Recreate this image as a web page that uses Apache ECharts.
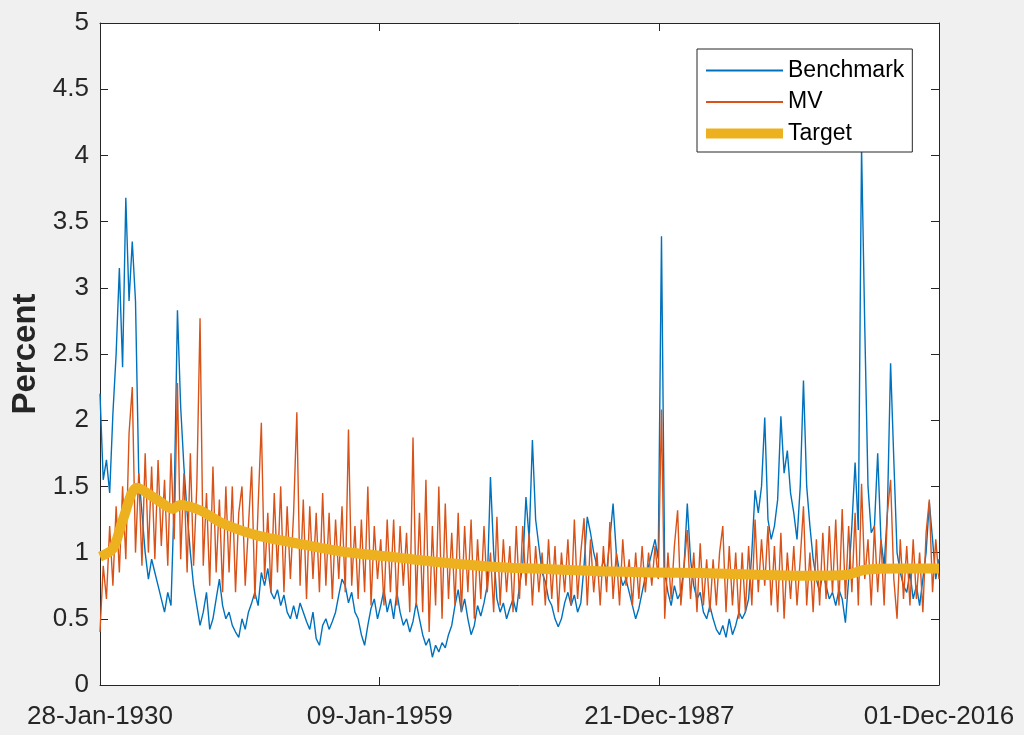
<!DOCTYPE html>
<html>
<head>
<meta charset="utf-8">
<script src="https://cdn.jsdelivr.net/npm/echarts@6/dist/echarts.min.js"></script>
<style>
html,body{margin:0;padding:0;background:#f0f0f0;}
#chart{width:1024px;height:735px;}
</style>
</head>
<body>
<div id="chart"></div>
<script>
// ---- data ----
var startYear = 1930.074;   // 28-Jan-1930
var spanYears = 86.8437;    // to 01-Dec-2016
var tickStep = 28.9479;
var tickLabels = ['28-Jan-1930', '09-Jan-1959', '21-Dec-1987', '01-Dec-2016'];
var seriesNames = ['Benchmark', 'MV', 'Target'];

// sampled every ~4 months across the span
var benchmark = [
2.2,1.55,1.7,1.45,2.05,2.5,3.15,2.4,3.68,2.9,
3.35,2.9,1.6,1.3,1.0,0.8,0.95,0.85,0.75,0.65,
0.55,0.7,0.6,1.4,2.83,2.1,1.65,1.3,1.0,0.75,
0.6,0.45,0.55,0.7,0.42,0.5,0.65,0.8,0.6,0.5,
0.55,0.45,0.4,0.36,0.5,0.42,0.55,0.62,0.7,0.6,
0.85,0.75,0.88,0.7,0.65,0.72,0.6,0.68,0.55,0.5,
0.6,0.5,0.62,0.55,0.48,0.42,0.55,0.35,0.3,0.45,
0.5,0.42,0.48,0.55,0.68,0.8,0.75,0.62,0.7,0.55,
0.5,0.38,0.3,0.45,0.58,0.65,0.5,0.6,0.72,0.55,
0.65,0.5,0.7,0.55,0.45,0.5,0.4,0.48,0.62,0.5,
0.38,0.3,0.35,0.21,0.3,0.25,0.32,0.28,0.38,0.45,
0.6,0.72,0.55,0.65,0.5,0.38,0.45,0.6,0.52,0.62,
0.75,1.57,1.0,0.65,0.55,0.62,0.5,0.58,0.65,0.55,
0.75,0.9,1.42,1.1,1.85,1.25,1.05,0.85,0.78,0.65,
0.6,0.5,0.44,0.5,0.62,0.7,0.6,0.68,0.55,0.62,
0.9,1.27,1.15,1.0,0.9,0.82,0.95,0.85,1.1,1.37,
1.0,0.85,0.75,0.8,0.7,0.6,0.5,0.58,0.7,0.82,
0.9,1.0,1.1,0.95,3.39,0.85,0.7,0.6,0.75,0.65,
0.7,0.9,1.37,0.95,0.75,0.65,0.7,0.55,0.5,0.6,
0.5,0.42,0.38,0.45,0.36,0.5,0.38,0.45,0.55,0.5,
0.55,0.65,1.0,1.47,1.3,1.5,2.02,1.25,1.1,1.2,
1.4,2.03,1.6,1.77,1.45,1.3,1.1,1.5,2.3,1.5,
1.2,0.95,0.8,0.7,0.85,0.75,0.65,0.7,0.6,0.72,
0.65,0.47,0.8,1.2,1.68,1.17,4.06,2.7,1.5,1.15,
1.2,1.75,1.1,0.9,1.3,2.43,1.7,1.0,0.85,0.75,
0.7,0.85,0.65,0.75,0.6,0.8,1.0,1.38,1.1,0.8,0.95
];

var mv = [
0.4,0.9,0.65,1.2,0.75,1.35,0.85,1.5,0.95,1.9,
2.25,1.0,1.6,0.9,1.75,1.0,1.65,0.95,1.7,1.05,
1.55,0.9,1.75,1.1,2.28,0.95,1.6,0.85,1.75,0.9,
1.5,2.77,0.9,1.45,0.75,1.65,0.85,1.4,0.7,1.5,
0.85,1.5,0.7,1.3,1.5,0.75,1.2,1.65,0.65,1.35,
1.98,0.8,1.3,0.7,1.45,0.85,1.5,0.7,1.35,0.8,
1.3,2.06,0.75,1.4,0.65,1.35,0.8,1.3,0.7,1.45,
0.75,1.3,0.65,1.25,0.8,1.35,0.7,1.93,0.75,1.2,
0.65,1.25,0.7,1.5,0.6,1.2,0.8,1.1,0.6,1.25,
0.7,1.25,0.6,1.2,0.75,1.15,0.55,1.87,0.6,1.3,
0.55,1.55,0.4,1.2,0.6,1.5,0.5,1.37,0.65,1.15,
0.6,1.3,0.55,1.2,0.7,1.25,0.5,1.1,0.65,1.2,
0.7,1.0,0.55,1.27,0.6,1.1,0.7,1.05,0.55,1.2,
0.65,1.2,0.75,1.15,0.6,1.05,0.7,1.0,0.6,1.1,
0.65,1.05,0.55,1.0,0.7,1.1,0.6,1.25,0.65,1.0,
1.26,0.6,1.1,0.7,1.0,0.6,1.05,0.7,1.23,0.65,
1.0,0.6,1.1,0.75,0.95,0.6,1.0,0.65,1.05,0.7,
1.0,0.75,1.05,0.8,2.08,0.5,1.0,0.65,1.05,1.32,
0.6,0.9,1.17,0.65,1.0,0.55,1.07,0.6,0.95,0.55,
0.95,0.6,1.0,1.2,0.55,1.05,0.6,1.0,0.5,1.0,
0.55,1.05,0.6,1.25,0.7,1.1,0.75,1.2,0.6,1.05,
0.55,1.15,0.5,1.0,0.65,1.05,0.6,0.95,1.35,0.6,
1.0,0.55,1.1,0.6,1.15,0.65,1.2,0.7,1.25,0.6,
1.33,0.65,1.2,0.7,1.3,0.6,1.52,0.8,1.1,0.6,
1.2,0.7,1.1,0.6,1.3,1.55,0.8,0.5,1.1,0.65,
1.05,0.6,1.1,0.65,1.0,0.55,1.15,1.4,0.7,1.1,0.8
];

var targetYears = [1930.07, 1931.42, 1932.45, 1933.9, 1935.97, 1937.63, 1938.35, 1940.42, 1942.8, 1946.32, 1949.74, 1954.91, 1961.13, 1966.3, 1971.48, 1976.65, 1981.83, 1987.0, 1992.18, 1997.36, 2002.53, 2007.2, 2009.26, 2012.9, 2016.92];
var targetVals = [0.97, 1.03, 1.25, 1.49, 1.4, 1.33, 1.36, 1.32, 1.22, 1.13, 1.08, 1.01, 0.96, 0.92, 0.89, 0.875, 0.86, 0.85, 0.845, 0.835, 0.825, 0.83, 0.87, 0.88, 0.88];

// ---- build ----
function sampled(arr) {
  var n = arr.length - 1;
  return arr.map(function (v, i) { return [i * spanYears / n, v]; });
}
var targetData = targetYears.map(function (y, i) {
  return [Math.min(Math.max(y - startYear, 0), spanYears), targetVals[i]];
});

var axisColor = '#262626';
var font = '"Liberation Sans", Arial, Helvetica, sans-serif';
var colors = ['#0072BD', '#D95319', '#EDB120'];
var widths = [1.4, 1.4, 10];

var chart = echarts.init(document.getElementById('chart'));
var xBase = {
  type: 'value', min: 0, max: spanYears, interval: tickStep,
  axisLine: { show: true, onZero: false, lineStyle: { color: axisColor, width: 1 } },
  axisTick: { show: true, inside: true, length: 8, lineStyle: { color: axisColor } },
  splitLine: { show: false }
};
var yBase = {
  type: 'value', min: 0, max: 5, interval: 0.5,
  axisLine: { show: true, onZero: false, lineStyle: { color: axisColor, width: 1 } },
  axisTick: { show: true, inside: true, length: 8, lineStyle: { color: axisColor } },
  splitLine: { show: false }
};

chart.setOption({
  animation: false,
  backgroundColor: '#f0f0f0',
  textStyle: { fontFamily: font },
  grid: { left: 100, right: 85, top: 23, bottom: 50, show: true, backgroundColor: '#ffffff', borderWidth: 0,
          outerBoundsMode: 'none', containLabel: false },
  legend: {
    orient: 'vertical', left: 697, top: 49,
    data: seriesNames.map(function (n, i) {
      return { name: n, itemStyle: { opacity: 0 }, lineStyle: { width: widths[i] === 10 ? 10 : 2, color: colors[i] } };
    }),
    itemWidth: 77, itemHeight: 14, itemGap: 8.5,
    padding: [10, 4, 7, 4],
    itemStyle: { opacity: 0 },
    backgroundColor: '#ffffff', borderColor: axisColor, borderWidth: 1,
    textStyle: { fontSize: 23, lineHeight: 22, color: '#000', fontFamily: font, padding: [0, 4, 0, 0] }
  },
  xAxis: [
    Object.assign({}, xBase, {
      position: 'bottom',
      axisLabel: {
        show: true, margin: 19, fontSize: 26, color: axisColor, fontFamily: font,
        showMinLabel: true, showMaxLabel: true,
        formatter: function (v) { var k = Math.round(v / tickStep); return tickLabels[k] || ''; }
      }
    }),
    Object.assign({}, xBase, { position: 'top', axisLabel: { show: false } })
  ],
  yAxis: [
    Object.assign({}, yBase, {
      position: 'left',
      name: 'Percent', nameLocation: 'middle', nameGap: 58, nameRotate: 90,
      nameTextStyle: { fontSize: 33, fontWeight: 'bold', color: axisColor, fontFamily: font },
      axisLabel: { show: true, margin: 11, fontSize: 26, color: axisColor, fontFamily: font }
    }),
    Object.assign({}, yBase, { position: 'right', axisLabel: { show: false } })
  ],
  series: [
    { name: seriesNames[0], type: 'line', data: sampled(benchmark), showSymbol: false, symbol: 'none',
      lineStyle: { color: colors[0], width: widths[0] }, itemStyle: { color: colors[0] }, z: 2 },
    { name: seriesNames[1], type: 'line', data: sampled(mv), showSymbol: false, symbol: 'none',
      lineStyle: { color: colors[1], width: widths[1] }, itemStyle: { color: colors[1] }, z: 3 },
    { name: seriesNames[2], type: 'line', data: targetData, showSymbol: false, symbol: 'none', smooth: 0.3,
      lineStyle: { color: colors[2], width: widths[2], cap: 'butt', join: 'round' }, itemStyle: { color: colors[2] }, z: 4 }
  ]
});
</script>
</body>
</html>
